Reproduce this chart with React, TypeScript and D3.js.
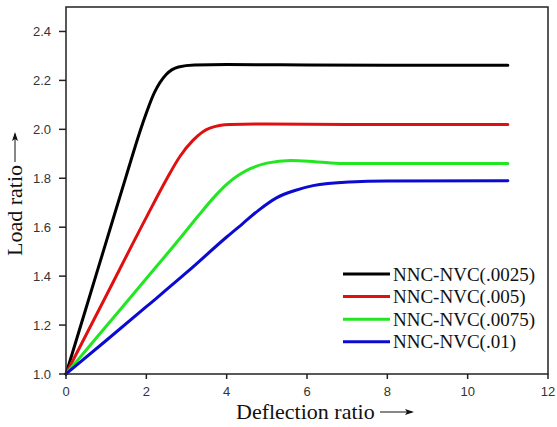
import React from "react";
import * as d3 from "d3";

const W = 557;
const H = 427;
const M = { left: 66, right: 9, top: 7, bottom: 53 };

const xTicks = [0, 2, 4, 6, 8, 10, 12];
const yTicks = [1.0, 1.2, 1.4, 1.6, 1.8, 2.0, 2.2, 2.4];

const seriesNames = ["NNC-NVC(.0025)", "NNC-NVC(.005)", "NNC-NVC(.0075)", "NNC-NVC(.01)"];
const seriesColors = ["#000000", "#e01010", "#22e622", "#0a0ad0"];

const blackX = [0, 0.5, 1, 1.5, 1.9, 2.2, 2.5, 2.8, 3.2, 4, 6, 8, 11];
const blackY = [1.0, 1.27, 1.54, 1.81, 2.02, 2.15, 2.225, 2.255, 2.263, 2.265, 2.263, 2.262, 2.262];

const redX = [0, 1, 2, 2.5, 2.84, 3.16, 3.58, 4.08, 5, 7, 11];
const redY = [1.0, 1.32, 1.64, 1.795, 1.89, 1.955, 2.005, 2.02, 2.022, 2.02, 2.02];

const greenX = [0, 1, 2, 2.84, 3.3, 3.7, 4.0, 4.6, 5.0, 5.6, 6.2, 6.9, 8, 11];
const greenY = [1.0, 1.195, 1.39, 1.555, 1.648, 1.725, 1.775, 1.84, 1.862, 1.873, 1.868, 1.86, 1.86, 1.86];

const blueX = [0, 1, 2, 3.04, 4.0, 4.4, 4.8, 5.24, 5.7, 6.15, 7.06, 8, 11];
const blueY = [1.0, 1.137, 1.275, 1.42, 1.56, 1.615, 1.67, 1.72, 1.75, 1.77, 1.785, 1.789, 1.79];

const seriesX = [blackX, redX, greenX, blueX];
const seriesY = [blackY, redY, greenY, blueY];

export default function App() {
  const x = d3.scaleLinear().domain([0, 12]).range([M.left, W - M.right]);
  const y = d3.scaleLinear().domain([1.0, 2.5]).range([H - M.bottom, M.top]);
  const line = d3
    .line<[number, number]>()
    .x((d) => x(d[0]))
    .y((d) => y(d[1]))
    .curve(d3.curveMonotoneX);

  const x0 = x(0);
  const x1 = x(12);
  const y0 = y(1.0);
  const y1 = y(2.5);
  const axisColor = "#222";
  const tickFont = "'Liberation Sans', Arial, sans-serif";
  const serif = "'Liberation Serif', 'Times New Roman', serif";

  const legX = 343;
  const legY0 = 274;
  const legDy = 22.6;

  return (
    <svg
      width={W}
      height={H}
      style={{ position: "absolute", left: 0, top: 0, background: "#fff" }}
    >
      <rect x={0} y={0} width={W} height={H} fill="#fff" />
      {seriesX.map((xs, i) => (
        <path
          key={i}
          d={line(xs.map((v, j) => [v, seriesY[i][j]] as [number, number])) || ""}
          fill="none"
          stroke={seriesColors[i]}
          strokeWidth={3}
          strokeLinecap="round"
          strokeLinejoin="round"
        />
      ))}
      <rect
        x={x0}
        y={y1}
        width={x1 - x0}
        height={y0 - y1}
        fill="none"
        stroke={axisColor}
        strokeWidth={1.5}
      />
      {xTicks.map((t) => (
        <g key={"x" + t}>
          <line x1={x(t)} x2={x(t)} y1={y0} y2={y0 + 5} stroke={axisColor} strokeWidth={1.5} />
          <text
            x={x(t)}
            y={y0 + 22}
            textAnchor="middle"
            fontFamily={tickFont}
            fontSize={13}
            fill="#333"
          >
            {t}
          </text>
        </g>
      ))}
      {yTicks.map((t) => (
        <g key={"y" + t}>
          <line x1={x0 - 7} x2={x0} y1={y(t)} y2={y(t)} stroke={axisColor} strokeWidth={1.5} />
          <text
            x={x0 - 15}
            y={y(t) + 4.5}
            textAnchor="end"
            fontFamily={tickFont}
            fontSize={13}
            fill="#333"
          >
            {t.toFixed(1)}
          </text>
        </g>
      ))}
      <text x={236} y={419} fontFamily={serif} fontSize={22} fill="#111">
        Deflection ratio
      </text>
      <line x1={380} x2={412} y1={412} y2={412} stroke="#111" strokeWidth={1} />
      <path d="M414,412 L405,409 L407,412 L405,415 Z" fill="#111" />
      <g transform="translate(22,256) rotate(-90)">
        <text x={0} y={0} fontFamily={serif} fontSize={22} fill="#111">
          Load ratio
        </text>
        <line x1={94} x2={122} y1={-7} y2={-7} stroke="#111" strokeWidth={1} />
        <path d="M124,-7 L115,-10 L117,-7 L115,-4 Z" fill="#111" />
      </g>
      {seriesNames.map((n, i) => (
        <g key={n}>
          <line
            x1={legX}
            x2={legX + 47}
            y1={legY0 + i * legDy}
            y2={legY0 + i * legDy}
            stroke={seriesColors[i]}
            strokeWidth={3}
          />
          <text
            x={legX + 50}
            y={legY0 + i * legDy + 6.5}
            fontFamily={serif}
            fontSize={19}
            fill="#111"
          >
            {n}
          </text>
        </g>
      ))}
    </svg>
  );
}
